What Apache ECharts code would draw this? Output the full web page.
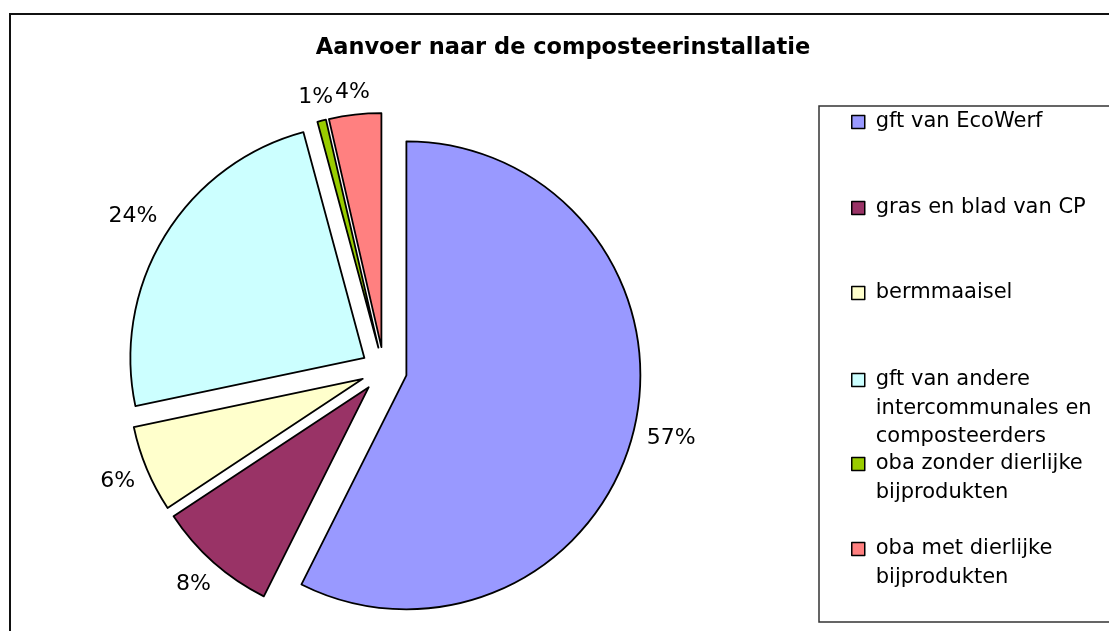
<!DOCTYPE html>
<html>
<head>
<meta charset="utf-8">
<script src="https://cdn.jsdelivr.net/npm/echarts@6/dist/echarts.min.js"></script>
<style>
  html, body { margin: 0; padding: 0; background: #fff; }
  #pieChart { width: 1109px; height: 631px; }
</style>
</head>
<body>
<div id="pieChart"></div>
<script>
// data (shares in %)
const categories = [
  'gft van EcoWerf',
  'gras en blad van CP',
  'bermmaaisel',
  'gft van andere intercommunales en composteerders',
  'oba zonder dierlijke bijprodukten',
  'oba met dierlijke bijprodukten'
]
const legendLines = [
  ['gft van EcoWerf'],
  ['gras en blad van CP'],
  ['bermmaaisel'],
  ['gft van andere', 'intercommunales en', 'composteerders'],
  ['oba zonder dierlijke', 'bijprodukten'],
  ['oba met dierlijke', 'bijprodukten']
]
const shares = [57.4, 8.3, 6.0, 24.1, 0.6, 3.6]
const colors = ['#9999FF', '#993366', '#FFFFCC', '#CCFFFF', '#99CC00', '#FF8080']

const chart = echarts.init(document.getElementById('pieChart'))
const font = 'DejaVu Sans'
const lineH = 28.5
const labelSize = 22
const cx = 384, cy = 370, radius = 234, explode = 23
// centre of each legend marker, top to bottom
const legendY = [122, 208, 293, 380, 464, 549]

const legends = categories.map(function (name, i) {
  const n = legendLines[i].length
  // blank lines in front keep the first line level with the marker
  const blank = new Array(n).join('\n')
  return {
    data: [name],
    orient: 'vertical',
    left: 851,
    top: legendY[i] - (2 * n - 1) * lineH / 2,
    padding: 0,
    icon: 'rect',
    itemWidth: 13,
    itemHeight: 13,
    selectedMode: false,
    itemStyle: { borderColor: '#000', borderWidth: 1.5 },
    formatter: function () { return blank + legendLines[i].join('\n') },
    textStyle: {
      fontFamily: font,
      fontSize: 21,
      color: '#000',
      lineHeight: lineH,
      padding: [0, 0, 0, 6]
    }
  }
})

// every slice is its own pie, pushed out along its mid angle (exploded pie)
const total = shares.reduce(function (a, b) { return a + b }, 0)
let acc = 0
const series = categories.map(function (name, i) {
  const startDeg = acc / total * 360
  const mid = (acc + shares[i] / 2) / total * Math.PI * 2
  acc += shares[i]
  const ux = Math.sin(mid), uy = -Math.cos(mid)
  const sx = cx + explode * ux, sy = cy + explode * uy
  return {
    type: 'pie',
    center: [sx, sy],
    radius: radius,
    startAngle: 90 - startDeg,
    clockwise: true,
    avoidLabelOverlap: false,
    emphasis: { disabled: true },
    tooltip: { show: false },
    label: {
      show: true,
      position: 'outside',
      fontFamily: font,
      fontSize: labelSize,
      color: '#000',
      formatter: function (p) { return Math.round(p.value) + '%' }
    },
    labelLine: { show: false, length: 8, length2: 0 },
    // excel style: label box just outside the slice, centred on its mid angle
    labelLayout: function (p) {
      const hw = p.labelRect.width / 2, hh = labelSize * 0.36
      const d = radius + 12.5 + hw * Math.abs(ux) + hh * Math.abs(uy)
      return { x: sx + d * ux, y: sy + d * uy, align: 'center', verticalAlign: 'middle' }
    },
    data: [
      { name: name, value: shares[i], itemStyle: { color: colors[i], borderColor: '#000', borderWidth: 1.8 } },
      { name: '', value: total - shares[i], itemStyle: { color: 'rgba(0,0,0,0)', borderWidth: 0 },
        label: { show: false } }
    ]
  }
})

const option = {
  backgroundColor: '#fff',
  animation: false,
  title: {
    text: 'Aanvoer naar de composteerinstallatie',
    left: 563,
    top: 37,
    textAlign: 'center',
    padding: 0,
    textStyle: { fontFamily: font, fontSize: 22.5, fontWeight: 'bold', color: '#000' }
  },
  legend: legends,
  graphic: [
    { type: 'rect', shape: { x: 10, y: 14, width: 1200, height: 700 },
      style: { fill: 'none', stroke: '#111', lineWidth: 2 }, silent: true },
    { type: 'rect', shape: { x: 819, y: 106, width: 400, height: 516 },
      style: { fill: 'none', stroke: '#333', lineWidth: 1.5 }, silent: true }
  ],
  series: series
}
chart.setOption(option)
</script>
</body>
</html>
